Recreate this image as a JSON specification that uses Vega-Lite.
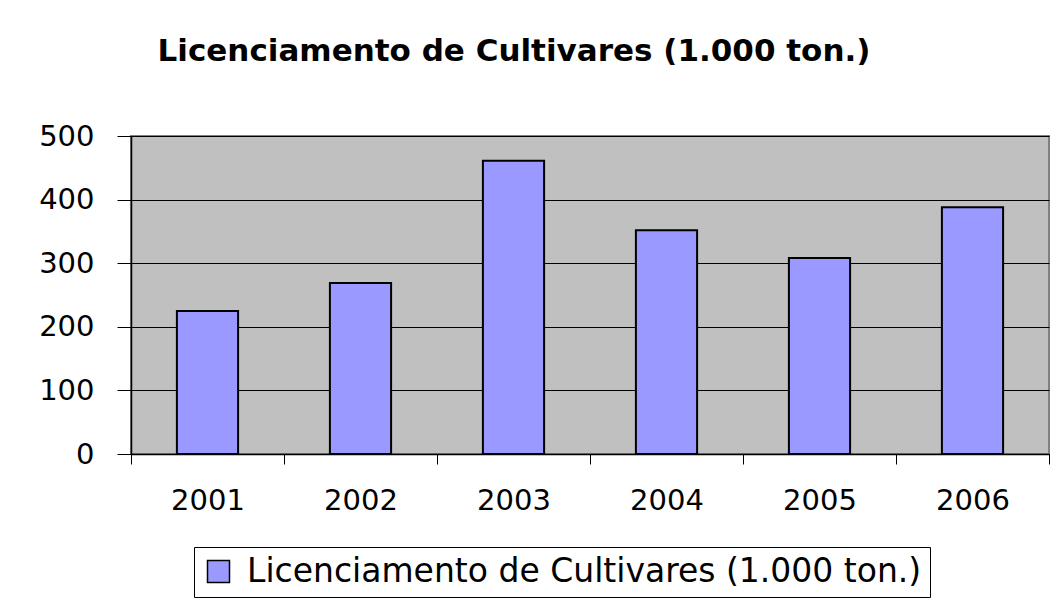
{
  "$schema": "https://vega.github.io/schema/vega-lite/v6.json",
  "autosize": {"type": "none"},
  "width": 918,
  "height": 318,
  "padding": {"left": 131, "top": 136, "right": 14, "bottom": 146},
  "background": "white",
  "title": {
    "text": "Licenciamento de Cultivares (1.000 ton.)",
    "font": "DejaVu Sans",
    "fontSize": 31,
    "fontWeight": "bold",
    "color": "black",
    "anchor": "middle",
    "frame": "group",
    "dx": -76,
    "offset": 54
  },
  "data": {
    "values": [
      {"ano": "2001", "valor": 225, "serie": "Licenciamento de Cultivares (1.000 ton.)"},
      {"ano": "2002", "valor": 269, "serie": "Licenciamento de Cultivares (1.000 ton.)"},
      {"ano": "2003", "valor": 461, "serie": "Licenciamento de Cultivares (1.000 ton.)"},
      {"ano": "2004", "valor": 352, "serie": "Licenciamento de Cultivares (1.000 ton.)"},
      {"ano": "2005", "valor": 308, "serie": "Licenciamento de Cultivares (1.000 ton.)"},
      {"ano": "2006", "valor": 388, "serie": "Licenciamento de Cultivares (1.000 ton.)"}
    ]
  },
  "mark": {"type": "bar", "stroke": "black", "strokeWidth": 2, "width": {"band": 0.4}},
  "encoding": {
    "x": {
      "field": "ano",
      "type": "nominal",
      "scale": {"paddingInner": 0, "paddingOuter": 0},
      "axis": {
        "title": null,
        "labelAngle": 0,
        "labelFont": "DejaVu Sans",
        "labelFontSize": 29,
        "labelColor": "black",
        "labelPadding": 22,
        "tickSize": 10,
        "tickColor": "black",
        "tickWidth": 1,
        "tickBand": "extent",
        "domainColor": "black",
        "domainWidth": 1.5,
        "grid": false
      }
    },
    "y": {
      "field": "valor",
      "type": "quantitative",
      "scale": {"domain": [0, 500], "nice": false},
      "axis": {
        "title": null,
        "values": [0, 100, 200, 300, 400, 500],
        "labelFont": "DejaVu Sans",
        "labelFontSize": 29,
        "labelColor": "black",
        "labelPadding": 23,
        "tickSize": 14,
        "tickColor": "black",
        "tickWidth": 1,
        "domainColor": "black",
        "domainWidth": 1.5,
        "grid": true,
        "gridColor": "black",
        "gridWidth": 1,
        "gridOpacity": 1
      }
    },
    "color": {
      "field": "serie",
      "type": "nominal",
      "scale": {"range": ["#9999ff"]},
      "legend": {
        "title": null,
        "orient": "none",
        "legendX": 63,
        "legendY": 411,
        "direction": "vertical",
        "padding": 8,
        "strokeColor": "black",
        "fillColor": "white",
        "symbolType": "square",
        "symbolSize": 484,
        "symbolStrokeColor": "black",
        "symbolStrokeWidth": 1.5,
        "symbolOpacity": 1,
        "labelFont": "DejaVu Sans",
        "labelFontSize": 33,
        "labelColor": "black",
        "labelOffset": 12,
        "labelLimit": 900
      }
    }
  },
  "config": {
    "font": "DejaVu Sans",
    "view": {"fill": "#c0c0c0", "stroke": "#808080", "strokeWidth": 2}
  }
}
